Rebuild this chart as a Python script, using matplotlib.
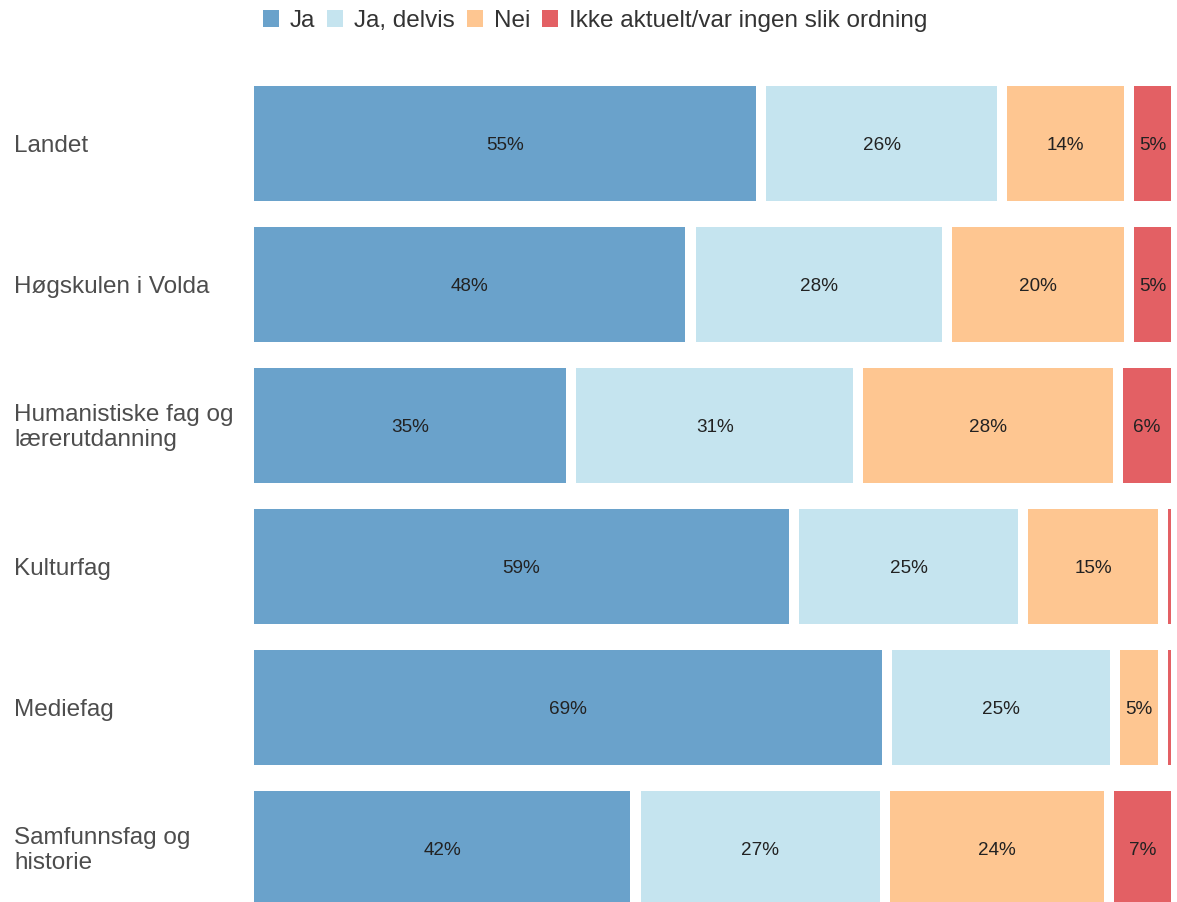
import matplotlib.pyplot as plt
import matplotlib.transforms as mtransforms
from matplotlib.patches import Patch

plt.rcParams['font.family'] = ['Liberation Sans', 'DejaVu Sans']

categories = ["Landet", "Høgskulen i Volda", "Humanistiske fag og\nlærerutdanning",
              "Kulturfag", "Mediefag", "Samfunnsfag og\nhistorie"]
series = ["Ja", "Ja, delvis", "Nei", "Ikke aktuelt/var ingen slik ordning"]
ja = [55.3, 47.6, 34.6, 58.9, 69.0, 41.6]
ja_delvis = [26.3, 28.0, 31.3, 25.0, 24.9, 27.2]
nei = [13.8, 19.8, 28.3, 15.2, 5.2, 24.4]
ikke = [4.6, 4.6, 5.8, 0.9, 0.9, 6.8]
colors = ["#6aa2cb", "#c5e4ef", "#fec691", "#e36064"]

W, H = 1177, 902
fig = plt.figure(figsize=(W / 100, H / 100), dpi=100)
ax = fig.add_axes([254 / W, 0, 917 / W, 1])

gap = 1.1
vals = [ja, ja_delvis, nei, ikke]
for row in range(len(categories)):
    cum = 0
    for s in range(4):
        v = vals[s][row]
        left = cum + (gap / 2 if s > 0 else 0)
        right = cum + v - (gap / 2 if s < 3 else 0)
        width = max(right - left, 0.3)
        ax.barh(row, width, left=left, height=0.816, color=colors[s], linewidth=0)
        if v >= 2:
            ax.text(left + width / 2, row, f"{round(v)}%", ha='center', va='center_baseline',
                    fontsize=13.6, color='#222222')
        cum += v

ax.set_xlim(0, 100)
ax.set_ylim(5.379, -1.018)
ax.axis('off')

trans = mtransforms.blended_transform_factory(fig.transFigure, ax.transData)
for row, cat in enumerate(categories):
    fig.text(14 / W, row + 0.015, cat, transform=trans, ha='left', va='center',
             fontsize=17.5, color='#4d4d4d', linespacing=1.2)

handles = [Patch(facecolor=c, edgecolor='none') for c in colors]
fig.legend(handles, series, loc='center', bbox_to_anchor=(595 / W, 1 - 21 / H), ncol=4,
           frameon=False, fontsize=17.5, handlelength=0.65, handleheight=0.65,
           handletextpad=0.45, columnspacing=0.5, labelcolor='#333333')

fig.savefig("out.png", dpi=100)
